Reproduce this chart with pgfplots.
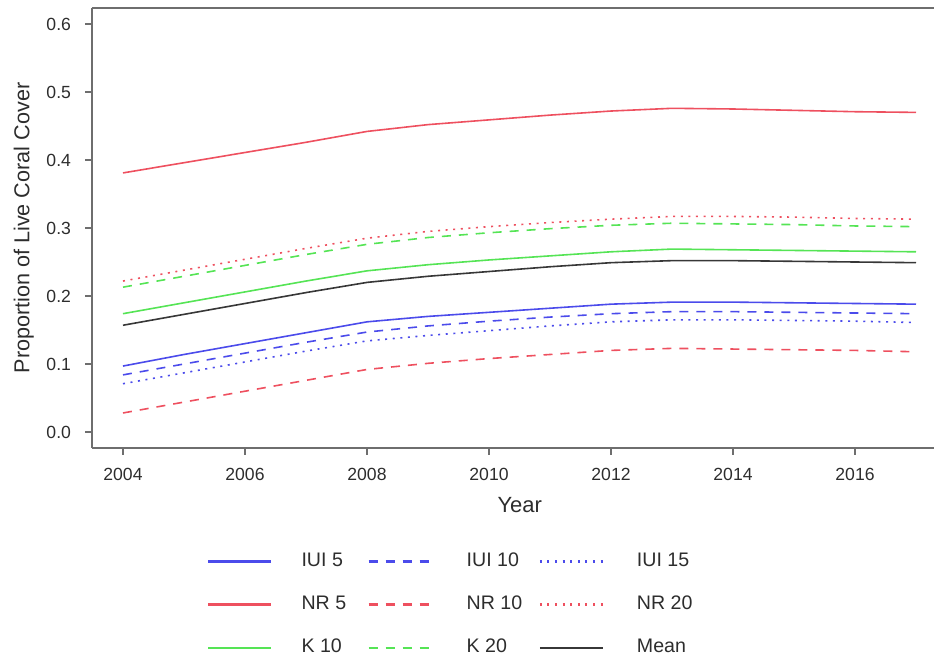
\documentclass[border=0pt]{standalone}
\usepackage{pgfplots}
\pgfplotsset{compat=1.18}
\usepackage{fontspec}
\setmainfont{Liberation Sans}
\definecolor{cblue}{RGB}{75,75,235}
\definecolor{cred}{RGB}{238,80,95}
\definecolor{cgreen}{RGB}{85,228,85}
\definecolor{cmean}{RGB}{55,55,55}
\definecolor{caxis}{RGB}{110,110,110}
\definecolor{ctext}{RGB}{45,45,45}
\pgfplotstableread{
year  iuiA  iuiB  iuiC  nrA   nrB   nrC   kA    kB    mean
2004  0.097 0.084 0.071 0.381 0.028 0.222 0.174 0.213 0.157
2005  0.114 0.100 0.087 0.396 0.044 0.238 0.190 0.229 0.173
2006  0.130 0.116 0.103 0.411 0.060 0.254 0.206 0.245 0.189
2007  0.146 0.132 0.119 0.426 0.076 0.270 0.222 0.261 0.205
2008  0.162 0.147 0.134 0.442 0.092 0.285 0.237 0.276 0.220
2009  0.170 0.156 0.142 0.452 0.101 0.295 0.246 0.286 0.229
2010  0.176 0.163 0.149 0.459 0.108 0.302 0.253 0.293 0.236
2011  0.182 0.169 0.156 0.466 0.114 0.308 0.259 0.299 0.243
2012  0.188 0.174 0.162 0.472 0.120 0.313 0.265 0.304 0.249
2013  0.191 0.177 0.165 0.476 0.123 0.317 0.269 0.307 0.252
2014  0.191 0.177 0.165 0.475 0.122 0.317 0.268 0.306 0.252
2015  0.190 0.176 0.164 0.473 0.121 0.316 0.267 0.305 0.251
2016  0.189 0.175 0.163 0.471 0.120 0.314 0.266 0.303 0.250
2017  0.188 0.174 0.161 0.470 0.118 0.313 0.265 0.302 0.249
}\data
\newcommand{\colA}[1]{\hspace*{14.5pt}\makebox[33pt][l]{#1}}
\newcommand{\colB}[1]{\hspace*{17pt}\makebox[36pt][l]{#1}}
\newcommand{\colC}[1]{\hspace*{16.5pt}\makebox[36pt][l]{#1}}
\begin{document}
\begin{tikzpicture}
\useasboundingbox (-46pt,-105pt) rectangle (421pt,224pt);
\begin{axis}[
  at={(0pt,0pt)}, anchor=south west,
  scale only axis, width=421pt, height=220pt,
  xmin=2003.492, xmax=2017.295,
  ymin=-0.0235, ymax=0.6235,
  axis x line*=box, axis y line*=left,
  xtick pos=bottom, ytick pos=left,
  tick align=outside, major tick length=3.5pt,
  axis line style={caxis, line width=0.7pt},
  every tick/.style={caxis, line width=0.6pt},
  xtick={2004,2006,...,2016},
  ytick={0,0.1,...,0.6},
  /pgf/number format/assume math mode=true,
  xticklabel style={/pgf/number format/1000 sep={}, font=\fontsize{8.8}{10}\selectfont, text=ctext, yshift=-3pt},
  yticklabel style={/pgf/number format/.cd, fixed, fixed zerofill, precision=1, /tikz/.cd, font=\fontsize{8.8}{10}\selectfont, text=ctext, xshift=-3.5pt},
  xlabel={Year}, ylabel={Proportion of Live Coral Cover},
  every axis x label/.style={at={(axis description cs:0.508,-0.1295)}, anchor=center, font=\fontsize{11}{13}\selectfont, text=ctext},
  every axis y label/.style={at={(axis description cs:-0.0810,0.5)}, rotate=90, anchor=center, font=\fontsize{10.8}{13}\selectfont, text=ctext},
  legend columns=3,
  legend cell align=left,
  legend image code/.code={\draw[#1, line width=1.1pt] (0pt,0pt) -- (31.5pt,0pt);},
  legend style={at={(axis description cs:0.1365,-0.238)}, anchor=north west, draw=none, fill=none,
    inner sep=0pt, column sep=0pt, row sep=13.2pt, font=\fontsize{9.8}{11}\selectfont, text=ctext,
    nodes={inner sep=0pt}},
]
\addplot[cblue, line width=0.8pt] table[x=year, y=iuiA] {\data};
\addlegendentry{\colA{IUI 5}}
\addplot[cblue, line width=0.8pt, dash pattern=on 4.5pt off 4pt] table[x=year, y=iuiB] {\data};
\addlegendentry{\colB{IUI 10}}
\addplot[cblue, line width=0.8pt, dash pattern=on 1pt off 2.8pt] table[x=year, y=iuiC] {\data};
\addlegendentry{\colC{IUI 15}}
\addplot[cred, line width=0.8pt] table[x=year, y=nrA] {\data};
\addlegendentry{\colA{NR 5}}
\addplot[cred, line width=0.8pt, dash pattern=on 4.5pt off 4pt] table[x=year, y=nrB] {\data};
\addlegendentry{\colB{NR 10}}
\addplot[cred, line width=0.8pt, dash pattern=on 1pt off 2.8pt] table[x=year, y=nrC] {\data};
\addlegendentry{\colC{NR 20}}
\addplot[cgreen, line width=0.8pt] table[x=year, y=kA] {\data};
\addlegendentry{\colA{K 10}}
\addplot[cgreen, line width=0.8pt, dash pattern=on 4.5pt off 4pt] table[x=year, y=kB] {\data};
\addlegendentry{\colB{K 20}}
\addplot[cmean, line width=0.8pt] table[x=year, y=mean] {\data};
\addlegendentry{\colC{Mean}}
\end{axis}
\end{tikzpicture}
\end{document}
